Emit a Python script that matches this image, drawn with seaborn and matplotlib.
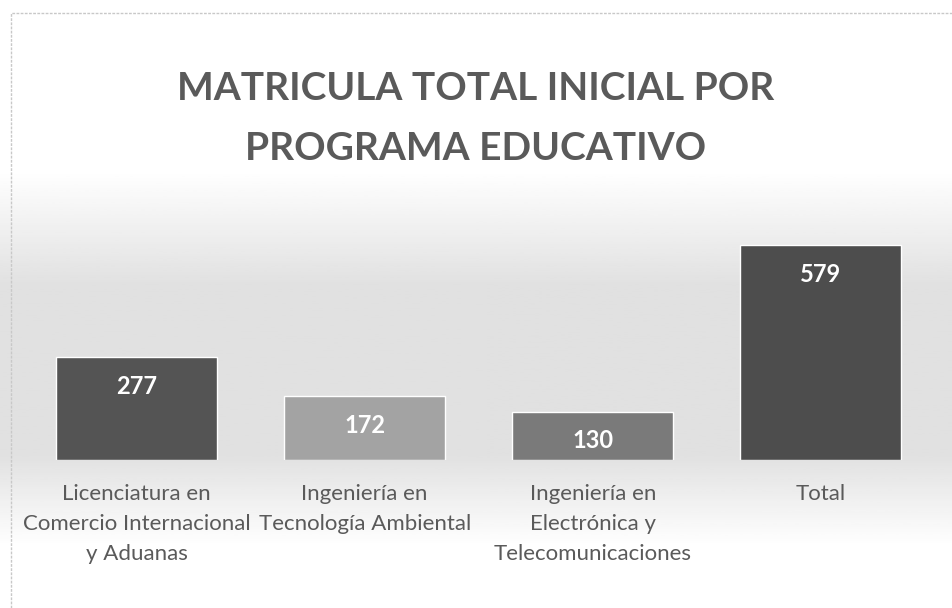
import numpy as np
import pandas as pd
import seaborn as sns
import matplotlib.pyplot as plt

# datos
programas = ["Licenciatura en\nComercio Internacional\ny Aduanas",
             "Ingeniería en\nTecnología Ambiental",
             "Ingeniería en\nElectrónica y\nTelecomunicaciones",
             "Total"]
matricula = [277, 172, 130, 579]
colores = ["#545454", "#a3a3a3", "#7a7a7a", "#4d4d4d"]

df = pd.DataFrame({"programa": programas, "matricula": matricula})

sns.set_style("white")
plt.rcParams['font.family'] = ['Lato', 'DejaVu Sans']

fig = plt.figure(figsize=(9.52, 6.08), dpi=100)

# fondo con degradado gris
bg = fig.add_axes([0, 0, 1, 1], zorder=-1)
grad = np.concatenate([np.linspace(1.0, 0.88, 50), np.full(70, 0.88),
                       np.linspace(0.88, 1.0, 40)])
bg.imshow(grad[:, None], cmap="gray", vmin=0, vmax=1, aspect="auto",
          extent=[0, 1, 0.10, 0.72])
bg.set_xlim(0, 1)
bg.set_ylim(0, 1)
bg.plot([0.012, 0.012, 1.0], [0.0, 0.978, 0.978], color="#c8c8c8", lw=1, ls=(0, (2, 1)))
bg.axis("off")

ax = fig.add_axes([0.0236, 0.2434, 0.9585, 0.4276])
sns.barplot(data=df, x="programa", y="matricula", hue="programa",
            palette=colores, width=0.706, legend=False, ax=ax, saturation=1)
ax.set_xlim(-0.5, 3.5)
ax.set_ylim(0, 700)
ax.patch.set_alpha(0)
sns.despine(ax=ax, left=True, bottom=True)
ax.set_yticks([])
ax.set_xlabel("")
ax.set_ylabel("")
ax.tick_params(axis="x", length=0, pad=17, labelsize=16, labelcolor="#5a5a5a")
for lbl in ax.get_xticklabels():
    lbl.set_linespacing(1.65)
    lbl.set_verticalalignment("top")

for i, v in enumerate(matricula):
    ax.annotate(str(v), (i, v), xytext=(0, -21), textcoords="offset points",
                ha="center", va="center", color="white", fontsize=17,
                fontweight="bold")

fig.text(0.5, 0.805, "MATRICULA TOTAL INICIAL POR\nPROGRAMA EDUCATIVO",
         ha="center", va="center", fontsize=28, fontweight="bold",
         color="#5a5a5a", linespacing=1.85)

fig.savefig("out.png", dpi=100)
